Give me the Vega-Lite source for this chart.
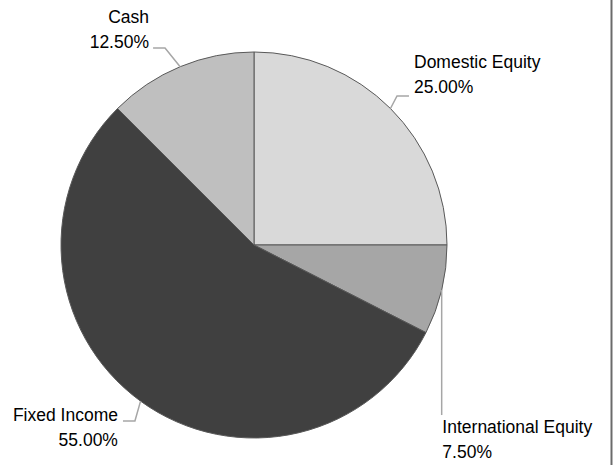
{
  "$schema": "https://vega.github.io/schema/vega-lite/v6.json",
  "width": 613,
  "height": 465,
  "autosize": "none",
  "padding": 0,
  "background": "white",
  "config": {"view": {"stroke": null}},
  "datasets": {
    "slices": [
      {"asset": "Domestic Equity", "share": 0.25, "k": 1, "lx": 0.829, "ly": 0.917},
      {"asset": "International Equity", "share": 0.075, "k": 2, "lx": 0.976, "ly": -0.974},
      {"asset": "Fixed Income", "share": 0.55, "k": 3, "lx": -0.705, "ly": -0.912},
      {"asset": "Cash", "share": 0.125, "k": 4, "lx": -0.544, "ly": 1.150}
    ],
    "leaders": [
      {"asset": "Cash", "i": 0, "x": -0.3827, "y": 0.9239},
      {"asset": "Cash", "i": 1, "x": -0.461, "y": 1.021},
      {"asset": "Cash", "i": 2, "x": -0.523, "y": 1.021},
      {"asset": "Domestic Equity", "i": 0, "x": 0.7071, "y": 0.7071},
      {"asset": "Domestic Equity", "i": 1, "x": 0.741, "y": 0.772},
      {"asset": "Domestic Equity", "i": 2, "x": 0.803, "y": 0.772},
      {"asset": "International Equity", "i": 0, "x": 0.9724, "y": -0.2334},
      {"asset": "International Equity", "i": 1, "x": 0.9724, "y": -0.881},
      {"asset": "Fixed Income", "i": 0, "x": -0.5878, "y": -0.809},
      {"asset": "Fixed Income", "i": 1, "x": -0.617, "y": -0.912},
      {"asset": "Fixed Income", "i": 2, "x": -0.679, "y": -0.912}
    ],
    "frame": [{"edge": 1.8523}]
  },
  "layer": [
    {
      "data": {"name": "slices"},
      "mark": {"type": "arc", "outerRadius": 193, "stroke": "#595959", "strokeWidth": 1},
      "encoding": {
        "x": {"datum": 0, "type": "quantitative", "scale": {"domain": [-1.3161, 1.8601], "nice": false, "zero": false}, "axis": null},
        "y": {"datum": 0, "type": "quantitative", "scale": {"domain": [-1.1399, 1.2694], "nice": false, "zero": false}, "axis": null},
        "theta": {"field": "share", "type": "quantitative", "stack": true},
        "order": {"field": "k", "type": "quantitative"},
        "color": {
          "field": "asset", "type": "nominal", "legend": null,
          "scale": {"domain": ["Domestic Equity", "International Equity", "Fixed Income", "Cash"], "range": ["#d9d9d9", "#a6a6a6", "#404040", "#bfbfbf"]}
        }
      }
    },
    {
      "data": {"name": "leaders"},
      "mark": {"type": "line", "stroke": "#a6a6a6", "strokeWidth": 1.5},
      "encoding": {
        "x": {"field": "x", "type": "quantitative", "scale": {"domain": [-1.3161, 1.8601], "nice": false, "zero": false}, "axis": null},
        "y": {"field": "y", "type": "quantitative", "scale": {"domain": [-1.1399, 1.2694], "nice": false, "zero": false}, "axis": null},
        "detail": {"field": "asset"},
        "order": {"field": "i", "type": "quantitative"}
      }
    },
    {
      "data": {"name": "slices"},
      "transform": [{"filter": {"field": "asset", "oneOf": ["Domestic Equity", "International Equity"]}}],
      "layer": [
        {"mark": {"type": "text", "align": "left", "baseline": "alphabetic", "font": "Liberation Sans", "fontSize": 17.5, "color": "#000000"},
         "encoding": {"text": {"field": "asset"}}},
        {"mark": {"type": "text", "align": "left", "baseline": "alphabetic", "font": "Liberation Sans", "fontSize": 17.5, "color": "#000000", "dy": 25},
         "encoding": {"text": {"field": "share", "type": "quantitative", "format": ".2%"}}}
      ],
      "encoding": {
        "x": {"field": "lx", "type": "quantitative", "scale": {"domain": [-1.3161, 1.8601], "nice": false, "zero": false}, "axis": null},
        "y": {"field": "ly", "type": "quantitative", "scale": {"domain": [-1.1399, 1.2694], "nice": false, "zero": false}, "axis": null}
      }
    },
    {
      "data": {"name": "slices"},
      "transform": [{"filter": {"field": "asset", "oneOf": ["Cash", "Fixed Income"]}}],
      "layer": [
        {"mark": {"type": "text", "align": "right", "baseline": "alphabetic", "font": "Liberation Sans", "fontSize": 17.5, "color": "#000000"},
         "encoding": {"text": {"field": "asset"}}},
        {"mark": {"type": "text", "align": "right", "baseline": "alphabetic", "font": "Liberation Sans", "fontSize": 17.5, "color": "#000000", "dy": 24.5},
         "encoding": {"text": {"field": "share", "type": "quantitative", "format": ".2%"}}}
      ],
      "encoding": {
        "x": {"field": "lx", "type": "quantitative", "scale": {"domain": [-1.3161, 1.8601], "nice": false, "zero": false}, "axis": null},
        "y": {"field": "ly", "type": "quantitative", "scale": {"domain": [-1.1399, 1.2694], "nice": false, "zero": false}, "axis": null}
      }
    },
    {
      "data": {"name": "frame"},
      "mark": {"type": "rule", "stroke": "#6b6b6b", "strokeWidth": 2},
      "encoding": {
        "x": {"field": "edge", "type": "quantitative", "scale": {"domain": [-1.3161, 1.8601], "nice": false, "zero": false}, "axis": null}
      }
    }
  ]
}
